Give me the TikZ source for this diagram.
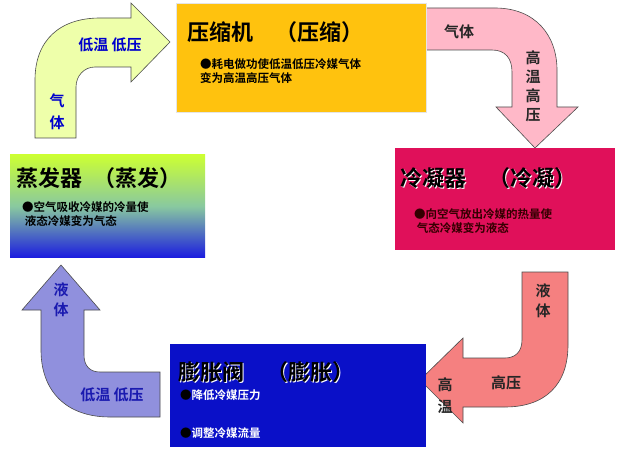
\documentclass[tikz,border=0pt]{standalone}
\usepackage{fontspec}
\setmainfont{Noto Sans CJK SC}[BoldFont={Noto Sans CJK SC Bold}]
\definecolor{gold}{HTML}{FFC20E}
\definecolor{crim}{HTML}{E0105A}
\definecolor{vblue}{HTML}{0A10C8}
\definecolor{evtop}{HTML}{CCFF33}
\definecolor{evmid}{HTML}{88C8A0}
\definecolor{evbot}{HTML}{1A1AE0}
\definecolor{ylw}{HTML}{EEFFAA}
\definecolor{pnk}{HTML}{FFB8C8}
\definecolor{slm}{HTML}{F58080}
\definecolor{lav}{HTML}{9090DD}
\definecolor{lblue}{HTML}{1A1AB0}
\begin{document}
\begin{tikzpicture}[x=1pt,y=-1pt,
  title/.style={anchor=west,font=\fontsize{22}{24}\selectfont\bfseries,inner sep=0},
  body/.style={anchor=west,font=\fontsize{11.5}{14}\selectfont\bfseries,inner sep=0,align=left},
  lab/.style={font=\fontsize{15}{16}\selectfont\bfseries,inner sep=0},
  arr/.style={draw=black!70,line width=0.6pt}]
\useasboundingbox (0,0) rectangle (640,449);
\fill[white] (0,0) rectangle (640,449);
% arrows
\filldraw[arr,fill=ylw] (35,138)--(35,80) .. controls (35,40) and (60,18) .. (100,18) -- (131,18) -- (131,3) -- (170,42) -- (131,82) -- (131,67) -- (95,67) .. controls (84,67) and (76,76) .. (76,87) -- (76,138) -- cycle;
\filldraw[arr,fill=pnk] (426,8)--(495,8) .. controls (535,8) and (557,35) .. (557,70) -- (557,107) -- (578,107) -- (535,148) -- (496,107) -- (512,107) -- (512,72) .. controls (512,58) and (505,50) .. (492,50) -- (426,50) -- cycle;
\filldraw[arr,fill=slm] (522,272)--(568,272)--(568,345) .. controls (568,385) and (545,407) .. (505,407) -- (463,407) -- (463,423) -- (420,380) -- (463,338) -- (463,358) -- (505,358) .. controls (515,358) and (522,352) .. (522,340) -- cycle;
\filldraw[arr,fill=lav] (160,372)--(160,417)--(110,417) .. controls (65,417) and (41,390) .. (41,350) -- (41,310) -- (22,310) -- (61,265) -- (100,310) -- (84,310) -- (84,355) .. controls (84,366) and (90,372) .. (100,372) -- cycle;
% boxes
\fill[draw=black!10,fill=gold] (176,3) rectangle (426,112);
\shade[top color=evtop,bottom color=evbot,middle color=evmid] (10,155) rectangle (205,258);
\fill[fill=crim] (395,148) rectangle (615,250);
\fill[fill=vblue] (170,344) rectangle (426,447);
% texts
\node[title] (t1) at (187,32) {压缩机\quad（压缩）};
\node[body] (b1) at (200,71) {●耗电做功使低温低压冷媒气体\\变为高温高压气体};
\node[title] (t2) at (16,178) {蒸发器\enspace（蒸发）};
\node[body] (b2) at (22,214) {●空气吸收冷媒的冷量使\\\ 液态冷媒变为气态};
\node[title,white] at (400.8,178.8) {冷凝器\quad（冷凝）};
\node[title] (t3) at (400,178) {冷凝器\quad（冷凝）};
\node[body,black!80!red] (b3) at (414,221) {●向空气放出冷媒的热量使\\\ 气态冷媒变为液态};
\node[title,white] at (178.8,372.8) {膨胀阀\quad（膨胀）};
\node[title] (t4) at (178,372) {膨胀阀\quad（膨胀）};
\node[body,white] (b4a) at (180,395) {\textcolor{black}{●}降低冷媒压力};
\node[body,white] (b4b) at (180,433) {\textcolor{black}{●}调整冷媒流量};
% arrow labels
\node[lab,blue!80!black] (l1) at (110,45) {低温 低压};
\node[lab,blue!80!black,align=center] (l2) at (57,112) {气\\[6pt]体};
\node[lab,black!85] (l3) at (459,32) {气体};
\node[lab,black!85,align=center] (l4) at (533,86) {高\\[3pt]温\\[3pt]高\\[3pt]压};
\node[lab,black!85,align=center] (l5) at (543,301) {液\\[4pt]体};
\node[lab,black!85,align=center] (l6) at (445,396) {高\\[6pt]温};
\node[lab,black!85] (l7) at (506,383) {高压};
\node[lab,lblue,align=center] (l8) at (61,300) {液\\[4pt]体};
\node[lab,lblue] (l9) at (112,395) {低温 低压};
\end{tikzpicture}
\end{document}
